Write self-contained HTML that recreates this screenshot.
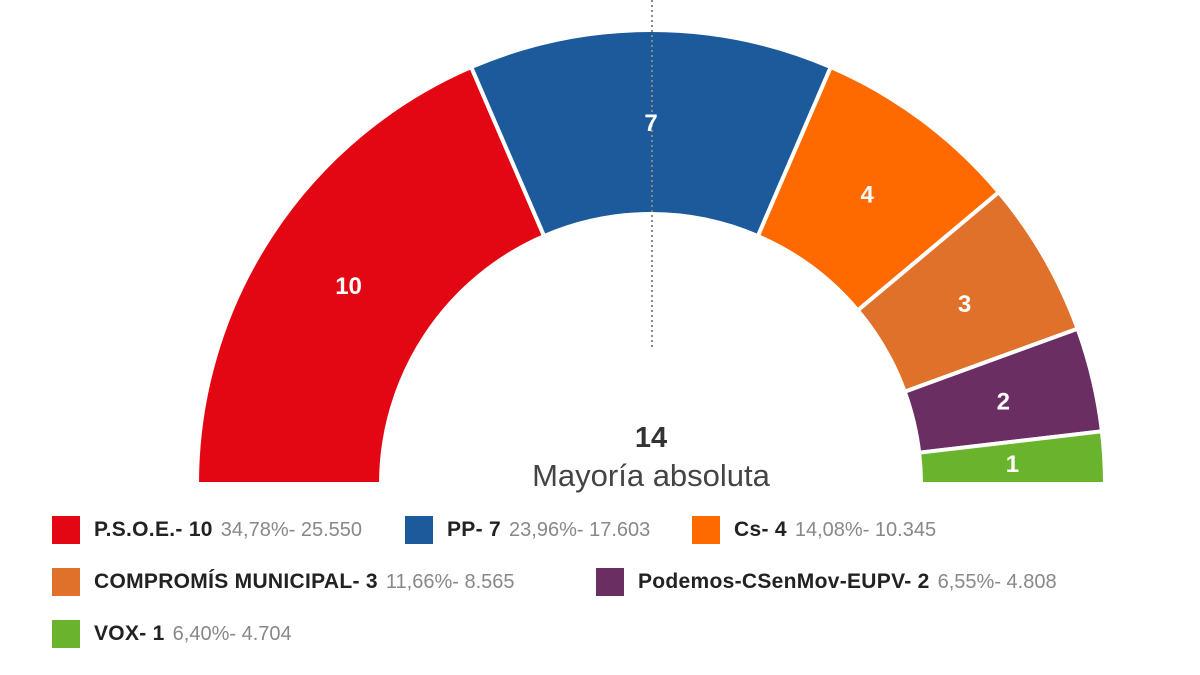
<!DOCTYPE html>
<html><head><meta charset="utf-8"><style>
body{margin:0;width:1200px;height:675px;background:#fff;overflow:hidden;font-family:"Liberation Sans",sans-serif;}
.lg{position:absolute;display:flex;align-items:center;font-size:21px;white-space:nowrap}
.sq{width:28px;height:28px;margin-right:14px}
.b{font-weight:bold;color:#222;letter-spacing:0.3px}
.g{color:#888;margin-left:8px;font-size:20px}
</style></head><body>
<svg width="1200" height="675" style="position:absolute;left:0;top:0">
<g id="arcs" stroke="#fff" stroke-width="4"></g>
<line x1="652" y1="0" x2="652" y2="350" stroke="#888" stroke-width="2" stroke-dasharray="2,3"/>
<g id="lbl" font-weight="bold" fill="#fff" font-size="24" text-anchor="middle"></g>
<text x="651" y="447" text-anchor="middle" font-size="29" font-weight="bold" fill="#333">14</text>
<text x="651" y="486" text-anchor="middle" font-size="31" fill="#444">Mayoría absoluta</text>
</svg>
<div class="lg" style="left:52px;top:516px"><div class="sq" style="background:#e30613"></div><span class="b">P.S.O.E.- 10</span><span class="g">34,78%- 25.550</span></div>
<div class="lg" style="left:405px;top:516px"><div class="sq" style="background:#1d5a9c"></div><span class="b">PP- 7</span><span class="g">23,96%- 17.603</span></div>
<div class="lg" style="left:692px;top:516px"><div class="sq" style="background:#ff6a00"></div><span class="b">Cs- 4</span><span class="g">14,08%- 10.345</span></div>
<div class="lg" style="left:52px;top:568px"><div class="sq" style="background:#e0712b"></div><span class="b">COMPROMÍS MUNICIPAL- 3</span><span class="g">11,66%- 8.565</span></div>
<div class="lg" style="left:596px;top:568px"><div class="sq" style="background:#6b2e63"></div><span class="b">Podemos-CSenMov-EUPV- 2</span><span class="g">6,55%- 4.808</span></div>
<div class="lg" style="left:52px;top:620px"><div class="sq" style="background:#6ab42d"></div><span class="b">VOX- 1</span><span class="g">6,40%- 4.704</span></div>
<script>
var cx=651,cy=484,R=454,r=270;
var d=[[10,"#e30613"],[7,"#1d5a9c"],[4,"#ff6a00"],[3,"#e0712b"],[2,"#6b2e63"],[1,"#6ab42d"]];
var a=Math.PI,ns="http://www.w3.org/2000/svg",g=document.getElementById("arcs"),l=document.getElementById("lbl");
function p(rr,t){return (cx+rr*Math.cos(t)).toFixed(1)+","+(cy-rr*Math.sin(t)).toFixed(1);}
d.forEach(function(s){var b=a-s[0]/27*Math.PI;
var e=document.createElementNS(ns,"path");
e.setAttribute("d","M"+p(R,a)+"A"+R+","+R+" 0 0 1 "+p(R,b)+"L"+p(r,b)+"A"+r+","+r+" 0 0 0 "+p(r,a)+"Z");
e.setAttribute("fill",s[1]);g.appendChild(e);
var m=(a+b)/2,t=document.createElementNS(ns,"text");
t.setAttribute("x",cx+362*Math.cos(m));t.setAttribute("y",cy-362*Math.sin(m)+9);t.textContent=s[0];l.appendChild(t);a=b;});
</script>
</body></html>
